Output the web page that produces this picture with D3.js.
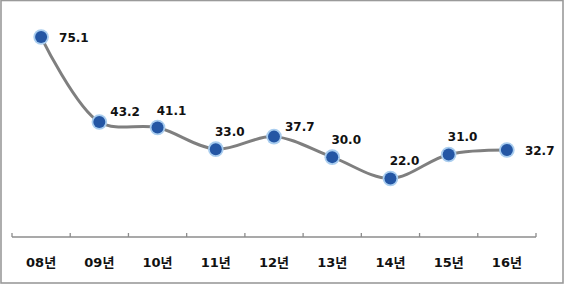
<!DOCTYPE html>
<html>
<head>
<meta charset="utf-8">
<script src="https://cdn.jsdelivr.net/npm/d3@7"></script>
<style>
  html, body { margin: 0; padding: 0; background: #fff; }
  .lbl { font-family: "DejaVu Sans", "Noto Sans CJK KR", sans-serif; font-weight: bold; font-size: 12px; fill: #111; }
  .xlbl { font-size: 13px; }
</style>
</head>
<body>
<div id="chart"></div>
<script>
// data
const years = ["08년", "09년", "10년", "11년", "12년", "13년", "14년", "15년", "16년"];
const values = [75.1, 43.2, 41.1, 33.0, 37.7, 30.0, 22.0, 31.0, 32.7];
// where each value label sits relative to its dot
const labelPlace = ["right", "upright", "above", "above", "upright", "above", "above", "above", "right"];

const W = 567, H = 288;
const m = { top: 24, right: 31, bottom: 51, left: 12 };
const innerW = W - m.left - m.right, innerH = H - m.top - m.bottom;

const svg = d3.select("#chart").append("svg").attr("width", W).attr("height", H);

// frame
svg.append("rect")
  .attr("x", 1).attr("y", 0.5).attr("width", 562).attr("height", 282.5)
  .attr("fill", "none").attr("stroke", "#9a9a9a").attr("stroke-width", 1.6);

const g = svg.append("g").attr("transform", `translate(${m.left},${m.top})`);

const x = d3.scaleBand().domain(years).range([0, innerW]);
const y = d3.scaleLinear().domain([0, 80]).range([innerH, 0]);

// axis line + ticks between categories (pointing up)
g.append("line")
  .attr("x1", 0).attr("x2", innerW)
  .attr("y1", innerH).attr("y2", innerH)
  .attr("stroke", "#8c8c8c").attr("stroke-width", 1.3);

const edges = years.map(d => x(d)).concat([innerW]);
g.selectAll(".tick")
  .data(edges)
  .join("line")
  .attr("x1", d => d).attr("x2", d => d)
  .attr("y1", innerH).attr("y2", innerH - 4)
  .attr("stroke", "#8c8c8c").attr("stroke-width", 1.3);

g.selectAll(".xl")
  .data(years)
  .join("text")
  .attr("class", "lbl xlbl")
  .attr("x", d => x(d) + x.bandwidth() / 2)
  .attr("y", innerH + 30)
  .attr("text-anchor", "middle")
  .text(d => d);

const pts = values.map((v, i) => ({ cx: x(years[i]) + x.bandwidth() / 2, cy: y(v), v, place: labelPlace[i] }));

const line = d3.line().x(d => d.cx).y(d => d.cy).curve(d3.curveCatmullRom.alpha(0.5));

g.append("path")
  .datum(pts)
  .attr("fill", "none")
  .attr("stroke", "#7f7f7f")
  .attr("stroke-width", 3)
  .attr("d", line);

// dots with soft light-blue rim
g.selectAll(".glow")
  .data(pts)
  .join("circle")
  .attr("cx", d => d.cx).attr("cy", d => d.cy)
  .attr("r", 7.8)
  .attr("fill", "#a9cdef");

g.selectAll(".dot")
  .data(pts)
  .join("circle")
  .attr("cx", d => d.cx).attr("cy", d => d.cy)
  .attr("r", 6)
  .attr("fill", "#2456a4");

const offs = {
  right:   { dx: 18, dy: 5, anchor: "start" },
  upright: { dx: 11, dy: -6, anchor: "start" },
  above:   { dx: 14, dy: -13, anchor: "middle" }
};

g.selectAll(".vl")
  .data(pts)
  .join("text")
  .attr("class", "lbl")
  .attr("x", d => d.cx + offs[d.place].dx)
  .attr("y", d => d.cy + offs[d.place].dy)
  .attr("text-anchor", d => offs[d.place].anchor)
  .text(d => d.v.toFixed(1));
</script>
</body>
</html>
